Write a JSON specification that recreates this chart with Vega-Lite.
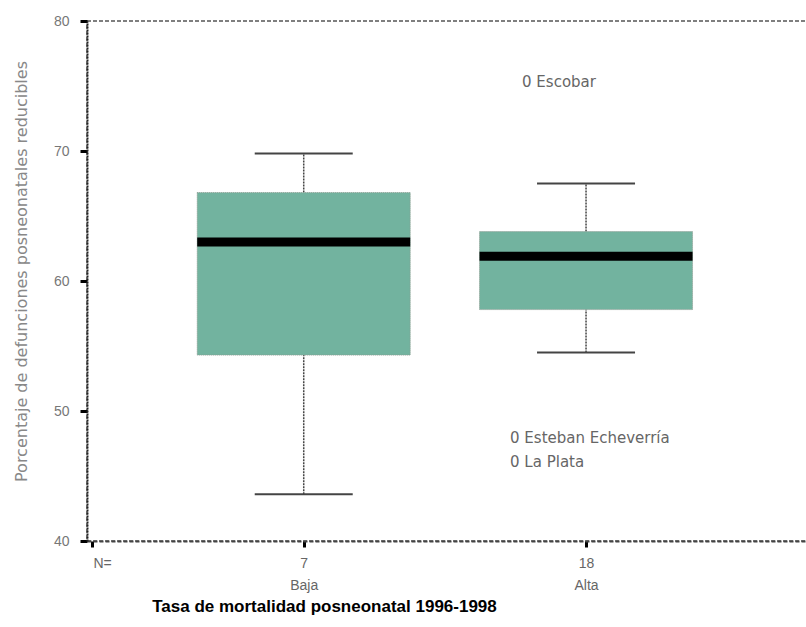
{
  "$schema": "https://vega.github.io/schema/vega-lite/v6.json",
  "autosize": "none",
  "padding": {"left": 87, "top": 21, "right": 0, "bottom": 86},
  "width": 720,
  "height": 520,
  "background": "white",
  "config": {
    "font": "Liberation Sans",
    "view": {"stroke": "#555", "strokeDash": [4, 2], "strokeWidth": 1.5}
  },
  "datasets": {
    "cajas": [
      {"grupo": "Baja", "pos": 1, "n": 7, "minimo": 43.6, "q1": 54.3, "mediana": 63.0, "q3": 66.8, "maximo": 69.8},
      {"grupo": "Alta", "pos": 2, "n": 18, "minimo": 54.5, "q1": 57.8, "mediana": 61.9, "q3": 63.8, "maximo": 67.5}
    ],
    "atipicos": [
      {"pos": 2, "valor": 75.3, "etiqueta": "0 Escobar", "caso": "alto"},
      {"pos": 2, "valor": 47.9, "etiqueta": "0 Esteban Echeverría", "caso": "bajo"},
      {"pos": 2, "valor": 46.1, "etiqueta": "0 La Plata", "caso": "bajo"}
    ]
  },
  "layer": [
    {
      "data": {"name": "cajas"},
      "mark": {"type": "rule", "color": "#444", "strokeWidth": 1.5, "strokeDash": [2, 1]},
      "encoding": {
        "x": {
          "field": "pos", "type": "quantitative",
          "scale": {"domain": [0.25, 2.765], "nice": false, "zero": false},
          "axis": {
            "values": [0.25, 1, 2],
            "labelExpr": "datum.value < 0.5 ? 'N=' : (datum.value == 1 ? ['7', 'Baja'] : ['18', 'Alta'])",
            "labelAlign": {"condition": {"test": "datum.value < 0.5", "value": "left"}, "value": "center"},
            "labelOffset": {"condition": {"test": "datum.value < 0.5", "value": 1}, "value": 0},
            "labelColor": "#666",
            "labelFontSize": 14,
            "labelLineHeight": 22,
            "labelPadding": 16,
            "labelBaseline": "middle",
            "grid": false,
            "tickColor": "#000",
            "tickWidth": 3,
            "tickSize": 6,
            "domainColor": "#444",
            "domainWidth": 2,
            "domainDash": [4, 2],
            "title": "Tasa de mortalidad posneonatal 1996-1998",
            "titleFontSize": 17,
            "titleFontWeight": "bold",
            "titleColor": "#000",
            "titleX": 237,
            "titlePadding": 6
          }
        },
        "y": {
          "field": "minimo", "type": "quantitative",
          "scale": {"domain": [40, 80], "nice": false, "zero": false},
          "axis": {
            "values": [40, 50, 60, 70, 80],
            "labelColor": "#777",
            "labelFontSize": 14,
            "labelPadding": 11,
            "grid": false,
            "tickColor": "#000",
            "tickWidth": 3,
            "tickSize": 7,
            "domainColor": "#222",
            "domainWidth": 2,
            "domainDash": [2, 1],
            "title": "Porcentaje de defunciones posneonatales reducibles",
            "titleFont": "DejaVu Sans",
            "titleFontSize": 16,
            "titleFontWeight": "normal",
            "titleColor": "#888",
            "titlePadding": 24,
            "titleY": 250
          }
        },
        "y2": {"field": "q1"}
      }
    },
    {
      "data": {"name": "cajas"},
      "mark": {"type": "rule", "color": "#444", "strokeWidth": 1.5, "strokeDash": [2, 1]},
      "encoding": {
        "x": {"field": "pos", "type": "quantitative"},
        "y": {"field": "q3", "type": "quantitative"},
        "y2": {"field": "maximo"}
      }
    },
    {
      "data": {"name": "cajas"},
      "mark": {"type": "bar", "size": 213, "color": "#72b39f", "stroke": "#8a9a90", "strokeWidth": 1, "strokeDash": [1, 1]},
      "encoding": {
        "x": {"field": "pos", "type": "quantitative"},
        "y": {"field": "q1", "type": "quantitative"},
        "y2": {"field": "q3"}
      }
    },
    {
      "data": {"name": "cajas"},
      "mark": {"type": "tick", "orient": "horizontal", "size": 213, "thickness": 9, "color": "#000", "opacity": 1},
      "encoding": {
        "x": {"field": "pos", "type": "quantitative"},
        "y": {"field": "mediana", "type": "quantitative"}
      }
    },
    {
      "data": {"name": "cajas"},
      "mark": {"type": "tick", "orient": "horizontal", "size": 98, "thickness": 2, "color": "#444", "opacity": 1},
      "encoding": {
        "x": {"field": "pos", "type": "quantitative"},
        "y": {"field": "maximo", "type": "quantitative"}
      }
    },
    {
      "data": {"name": "cajas"},
      "mark": {"type": "tick", "orient": "horizontal", "size": 98, "thickness": 2, "color": "#444", "opacity": 1},
      "encoding": {
        "x": {"field": "pos", "type": "quantitative"},
        "y": {"field": "minimo", "type": "quantitative"}
      }
    },
    {
      "data": {"name": "atipicos"},
      "transform": [{"filter": "datum.caso == 'alto'"}],
      "mark": {"type": "text", "align": "left", "baseline": "middle", "font": "DejaVu Sans", "fontSize": 15, "color": "#666", "dx": -64},
      "encoding": {
        "x": {"field": "pos", "type": "quantitative"},
        "y": {"field": "valor", "type": "quantitative"},
        "text": {"field": "etiqueta"}
      }
    },
    {
      "data": {"name": "atipicos"},
      "transform": [{"filter": "datum.caso == 'bajo'"}],
      "mark": {"type": "text", "align": "left", "baseline": "middle", "font": "DejaVu Sans", "fontSize": 15, "color": "#666", "dx": -76},
      "encoding": {
        "x": {"field": "pos", "type": "quantitative"},
        "y": {"field": "valor", "type": "quantitative"},
        "text": {"field": "etiqueta"}
      }
    }
  ]
}
